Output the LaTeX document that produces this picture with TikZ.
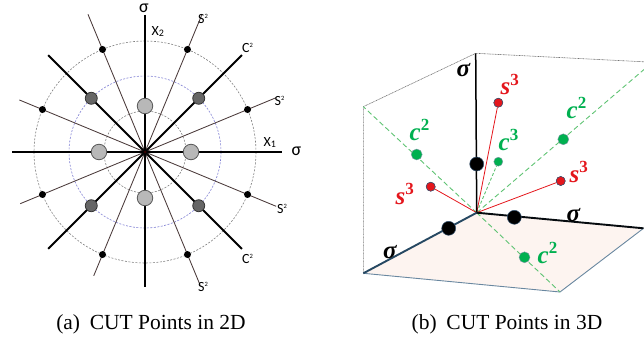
\documentclass[tikz,border=0pt]{standalone}
\usepackage{fontspec}
\setmainfont{Liberation Serif}
\newfontfamily\lblfont{Carlito}
\newfontfamily\mfont{Liberation Serif}
\newcommand{\supx}[1]{\raisebox{9.5pt}{\fontsize{17}{17}\selectfont\upshape #1}}
\definecolor{cgreen}{RGB}{0,176,80}
\definecolor{dgreen}{RGB}{95,195,115}
\definecolor{cred}{RGB}{228,22,28}
\definecolor{floorc}{RGB}{253,244,240}
\definecolor{axblue}{RGB}{38,72,98}
\definecolor{edgeblue}{RGB}{105,135,160}
\definecolor{ptedge}{RGB}{55,85,115}
\definecolor{slinec}{RGB}{75,58,58}
\definecolor{circblue}{RGB}{125,125,210}
\tikzset{
  circg/.style={draw=black!50, line width=0.6pt, dash pattern=on 2pt off 1.5pt},
  circb/.style={draw=circblue, line width=0.6pt, dash pattern=on 2pt off 1.5pt},
  sln/.style={draw=slinec, line width=0.85pt},
  cln/.style={draw=black, line width=1.8pt},
  axisln/.style={draw=black, line width=2.8pt},
  lpt/.style={circle, fill=black!28, draw=black!65, line width=0.8pt, minimum size=15.5pt, inner sep=0pt},
  dpt/.style={circle, fill=black!60, draw=black!80, line width=0.8pt, minimum size=12pt, inner sep=0pt},
  bpt/.style={circle, fill=black, minimum size=7pt, inner sep=0pt},
  lsig/.style={font=\lblfont\fontsize{18}{18}\selectfont, inner sep=0pt},
  llab/.style={font=\lblfont\fontsize{14}{14}\selectfont, inner sep=0pt},
  wallln/.style={draw=black!55, line width=0.6pt, dash pattern=on 1pt off 0.6pt},
  edgeln/.style={draw=edgeblue, line width=0.9pt},
  gdash/.style={draw=dgreen, line width=0.9pt, dash pattern=on 5pt off 3pt},
  rln/.style={draw=cred, line width=0.8pt},
  kpt/.style={circle, fill=black, draw=ptedge, line width=0.5pt, minimum size=14pt, inner sep=0pt},
  gpt/.style={circle, fill=cgreen, draw=ptedge!60, line width=0.4pt, minimum size=11pt, inner sep=0pt},
  gpts/.style={circle, fill=cgreen, draw=ptedge!60, line width=0.4pt, minimum size=9pt, inner sep=0pt},
  rpt/.style={circle, fill=cred, draw=ptedge, line width=0.5pt, minimum size=9pt, inner sep=0pt},
  mlab/.style={font=\mfont\bfseries\itshape\fontsize{25}{27}\selectfont, inner sep=0pt, anchor=base west},
  captext/.style={font=\fontsize{21.5}{24}\selectfont, inner sep=0pt, anchor=base}
}
\begin{document}
\begin{tikzpicture}[x=1pt,y=-1pt]
\useasboundingbox (0,0) rectangle (644,342);
% ================= left: 2D =================
\coordinate (C) at (145,152);
\draw[circg] (C) circle[radius=41];
\draw[circb] (C) circle[radius=76];
\draw[circg] (C) circle[radius=111];
\foreach \a/\r in {22.5/142, 67.5/148, 112.5/149, 157.5/136, 202.5/135, 247.5/134, 292.5/144, 337.5/142}
  \draw[sln] (C) -- ++({-\a}:\r);
\foreach \a in {45,135,225,315}
  \draw[cln] (C) -- ++({-\a}:137);
\coordinate (axL) at (12,152);
\coordinate (axR) at (282,152);
\coordinate (axT) at (145,15);
\coordinate (axB) at (145,287);
\draw[axisln] (axL) -- (axR);
\draw[axisln] (axT) -- (axB);
\foreach \a in {0,90,180,270}
  \path (C) ++({-\a}:46) node[lpt] (lp\a) {};
\foreach \a in {45,135,225,315}
  \path (C) ++({-\a}:76) node[dpt] (dp\a) {};
\foreach \a in {22.5,67.5,112.5,157.5,202.5,247.5,292.5,337.5}
  \path (C) ++({-\a}:111) node[bpt] (bp\a) {};
\node[circle, fill=black!80!red, minimum size=3pt, inner sep=0pt] (ctr) at (C) {};
% labels
\node[lsig, anchor=base west] (sigT) at (139,12.7) {σ};
\node[lsig, anchor=base west] (sigR) at (291.5,155) {σ};
\node[llab, anchor=base west] (x2) at (151.5,36) {X\raisebox{-0.5pt}{\fontsize{10}{10}\selectfont 2}};
\node[llab, anchor=base west] (x1) at (263.5,146.7) {X\raisebox{-0.5pt}{\fontsize{10}{10}\selectfont 1}};
\node[llab, anchor=base west] (s1) at (198,23.3) {S\raisebox{5pt}{\fontsize{6.5}{6.5}\selectfont 2}};
\node[llab, anchor=base west] (c1) at (242,53) {C\raisebox{5pt}{\fontsize{6.5}{6.5}\selectfont 2}};
\node[llab, anchor=base west] (s2) at (274.5,105.5) {S\raisebox{5pt}{\fontsize{6.5}{6.5}\selectfont 2}};
\node[llab, anchor=base west] (s3) at (277,213) {S\raisebox{5pt}{\fontsize{6.5}{6.5}\selectfont 2}};
\node[llab, anchor=base west] (c2) at (242,263) {C\raisebox{5pt}{\fontsize{6.5}{6.5}\selectfont 2}};
\node[llab, anchor=base west] (s4) at (198,291.7) {S\raisebox{5pt}{\fontsize{6.5}{6.5}\selectfont 2}};
% ================= right: 3D =================
\coordinate (O) at (476.7,212.7);
\coordinate (Vt) at (475.7,53.3);
\coordinate (WL) at (363.3,106.7);
\coordinate (FL) at (363.3,273.3);
\coordinate (FF) at (560,292);
\coordinate (FR) at (643.5,228.3);
\coordinate (TR) at (644,61.8);
\coordinate (G1) at (644,69.5);
\fill[floorc] (O) -- (FL) -- (FF) -- (FR) -- cycle;
\draw[edgeln] (FL) -- (FF) -- (FR);
\draw[wallln] (FL) -- (WL) -- (Vt) -- (TR);
\draw[gdash] (O) -- (WL);
\draw[gdash] (O) -- (G1);
\draw[gdash] (O) -- (FF);
\node[gpts] (g3) at (498.3,161.7) {};
\draw[gdash, dash pattern=on 3pt off 2pt] (O) -- (g3);
\node[rpt] (r1) at (498.3,102.7) {};
\node[rpt] (r2) at (430.7,186.7) {};
\node[rpt] (r3) at (560.7,181) {};
\draw[rln] (O) -- (r1);
\draw[rln] (O) -- (r2);
\draw[rln] (O) -- (r3);
\draw[draw=black, line width=1.5pt] (O) -- (Vt);
\draw[draw=axblue, line width=1.9pt] (O) -- (FL);
\draw[draw=black!85!axblue, line width=1.9pt] (O) -- (FR);
\node[rpt] at (r1) {};
\node[rpt] at (r2) {};
\node[rpt] at (r3) {};
\node[kpt] (k1) at (476.7,164) {};
\node[kpt] (k2) at (448.7,228.3) {};
\node[kpt] (k3) at (514.3,217.3) {};
\node[gpt] (g1) at (416.7,154.5) {};
\node[gpt] (g2) at (563.3,139.3) {};
\node[gpt] (g4) at (524.5,257.3) {};
% labels
\node[mlab] (lsT) at (456.5,77) {σ};
\node[mlab] (lsR) at (566.5,221.7) {σ};
\node[mlab] (lsL) at (383,258.3) {σ};
\node[mlab, text=cred] (ls1) at (500.5,95) {s\supx{3}};
\node[mlab, text=cred] (ls2) at (395.5,204) {s\supx{3}};
\node[mlab, text=cred] (ls3) at (569.5,182) {s\supx{3}};
\node[mlab, text=cgreen] (lc1) at (409.5,140) {c\supx{2}};
\node[mlab, text=cgreen] (lc3) at (498.5,150) {c\supx{3}};
\node[mlab, text=cgreen] (lc2) at (566.5,118) {c\supx{2}};
\node[mlab, text=cgreen] (lc4) at (537.5,263) {c\supx{2}};
% captions
\node[captext] (capA) at (151,329) {(a)\hspace{0.45em}CUT Points in 2D};
\node[captext] (capB) at (507,329) {(b)\hspace{0.45em}CUT Points in 3D};
\end{tikzpicture}
\end{document}
